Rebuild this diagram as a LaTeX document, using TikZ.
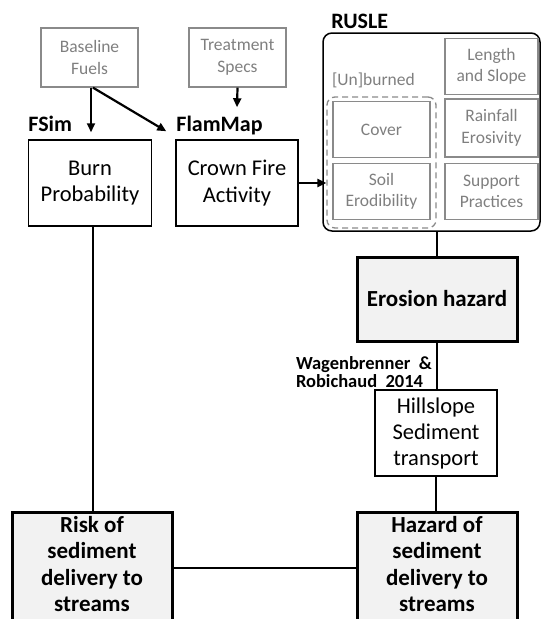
\documentclass[tikz,border=0pt]{standalone}
\usepackage{fontspec}
\setmainfont{Carlito}
\usepackage{tikz}
\usetikzlibrary{arrows.meta,positioning}
\definecolor{boxgrey}{HTML}{8A8A8A}
\definecolor{textgrey}{HTML}{7F7F7F}
\definecolor{fillgrey}{HTML}{F2F2F2}
\tikzset
{
    inbox/.style  = {rectangle, draw=boxgrey, line width=1.3pt, text=textgrey, align=center, inner sep=0pt, font=\fontsize{17.5}{21.5}\selectfont},
    model/.style  = {rectangle, draw=black, line width=1.5pt, align=center, inner sep=0pt, font=\fontsize{22.5}{26.5}\selectfont},
    result/.style = {rectangle, draw=black, line width=3pt, fill=fillgrey, align=center, inner sep=0pt, font=\fontsize{23}{26.5}\selectfont\bfseries},
    tool/.style   = {inner sep=0pt, font=\fontsize{22}{18}\selectfont\bfseries},
    link/.style   = {line width=2.2pt},
    arrow/.style  = {line width=2.2pt, -{Triangle[length=9pt,width=8pt]}}
}

\begin{document}
\begin{tikzpicture}[x=1pt, y=-1pt]
\clip (0,0) rectangle (541,619);
\newcommand\inW{93}
\newcommand\inH{56}
% inputs
\node(fuels) [inbox, minimum width=97, minimum height=59] at (89.5, 57.5) {Baseline\\Fuels};
\node(specs) [inbox, minimum width=97, minimum height=59] at (237.5, 57.5) {Treatment\\Specs};
\node(burn) [model, minimum width=123, minimum height=86] at (90, 183) {Burn\\Probability};
\node(crown) [model, minimum width=122, minimum height=86] at (237, 183) {Crown Fire\\Activity};
\node(fsim) [tool, anchor=base west] at ([shift={(0.5,-8)}]burn.north west) {FSim};
\node(flammap) [tool, anchor=base west] at ([shift={(1,-8)}]crown.north west) {FlamMap};
% RUSLE factors
\node(rusle) [draw, line width=1.5pt, rounded corners=9pt, minimum width=217, minimum height=198] at (431.5, 132) {};
\node(ruslelbl) [tool, anchor=base west] at ([shift={(9,-4)}]rusle.north west) {RUSLE};
\node(unburned) [draw=boxgrey, line width=1.3pt, dash pattern=on 6pt off 4pt, rounded corners=8pt, minimum width=109, minimum height=131] at (381.5, 162.5) {};
\node(unburnedlbl) [inbox, draw=none, anchor=base west] at ([shift={(5,-11)}]unburned.north west) {[Un]burned};
\node(cover) [inbox, minimum width=97, minimum height=\inH] at (381.5, 129.5) {Cover};
\node(soil) [inbox, minimum width=97, minimum height=\inH] at (381.5, 191.5) {Soil\\Erodibility};
\node(length) [inbox, minimum width=\inW, minimum height=\inH] at (491.5, 66.5) {Length\\and Slope};
\node(rain) [inbox, minimum width=\inW, minimum height=\inH+2] at (491.5, 128) {Rainfall\\Erosivity};
\node(support) [inbox, minimum width=\inW, minimum height=\inH] at (491.5, 191.5) {Support\\Practices};
% outputs
\node(erosion) [result, minimum width=160, minimum height=84] at (437, 299) {Erosion hazard};
\node(hillslope) [model, minimum width=122, minimum height=86, font=\fontsize{22.5}{26}\selectfont] at (436, 433) {Hillslope\\Sediment\\transport};
\node(wagen) [tool, anchor=south east, align=left, font=\fontsize{18.5}{18}\selectfont\bfseries] at (432, 388) {Wagenbrenner\ \ \&\\Robichaud\ \ 2014};
\node(risk) [result, text depth=8.4pt, minimum width=160, minimum height=112] at (92, 568) {Risk of\\sediment\\delivery to\\streams};
\node(hazard) [result, text depth=8.4pt, minimum width=160, minimum height=112] at (437, 568) {Hazard of\\sediment\\delivery to\\streams};
\draw[arrow] ([xshift=1.5pt]fuels.south) -- ([yshift=7pt,xshift=1pt]burn.north);
\draw[arrow] ([xshift=3.5pt]fuels.south) -- ([shift={(-9,-8)}]crown.north west);
\draw[arrow] (specs.south) -- ([yshift=32pt]crown.north);
\draw[arrow] (crown.east) -- (crown.east -| unburned.west);
\draw[link] (erosion.north |- rusle.south) -- (erosion.north);
\draw[link] (erosion.south) -- (erosion.south |- hillslope.north);
\draw[link] (hillslope.south) -- (hillslope.south |- hazard.north);
\draw[link] ([xshift=3pt]burn.south) -- ([xshift=3pt]burn.south |- risk.north);
\draw[link] (risk.east) -- (hazard.west);
\end{tikzpicture}
\end{document}
